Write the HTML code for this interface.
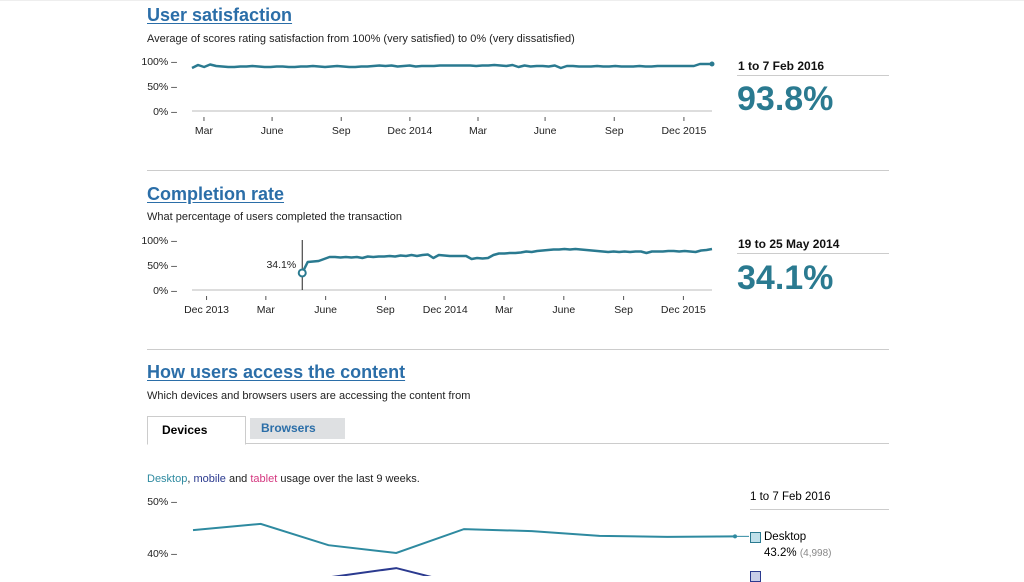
<!DOCTYPE html>
<html><head><meta charset="utf-8">
<style>
body{margin:0;width:1024px;height:576px;overflow:hidden;background:#fff;font-family:"Liberation Sans",sans-serif;position:relative}
.a{position:absolute;white-space:nowrap}
h2{margin:0;font-size:18px;font-weight:bold;color:#2b6ea8;text-decoration:underline;text-underline-offset:2px}
.sub{font-size:11px;color:#222}
.big{font-size:34px;font-weight:bold;color:#2a7a90}
.date{font-size:12px;font-weight:bold;color:#111}
.hr{position:absolute;height:1px;background:#ccc}
svg text{font-family:"Liberation Sans",sans-serif;font-size:10.5px;fill:#222}
</style></head><body>
<div class="hr" style="left:0;top:0;width:1024px;background:#eee"></div>
<h2 class="a" style="left:147px;top:5px">User satisfaction</h2>
<div class="a sub" style="left:147px;top:33px">Average of scores rating satisfaction from 100% (very satisfied) to 0% (very dissatisfied)</div>
<div class="a date" style="left:738px;top:59px">1 to 7 Feb 2016</div>
<div class="hr" style="left:737px;top:75px;width:152px"></div>
<div class="a big" style="left:737px;top:80px">93.8%</div>
<div class="hr" style="left:147px;top:170px;width:742px"></div>

<h2 class="a" style="left:147px;top:184px">Completion rate</h2>
<div class="a sub" style="left:147px;top:211px">What percentage of users completed the transaction</div>
<div class="a date" style="left:738px;top:237px">19 to 25 May 2014</div>
<div class="hr" style="left:737px;top:253px;width:152px"></div>
<div class="a big" style="left:737px;top:259px">34.1%</div>
<div class="hr" style="left:147px;top:349px;width:742px"></div>

<h2 class="a" style="left:147px;top:362px">How users access the content</h2>
<div class="a sub" style="left:147px;top:390px">Which devices and browsers users are accessing the content from</div>
<div class="hr" style="left:147px;top:443px;width:742px"></div>
<div class="a" style="left:147px;top:416px;width:97px;height:27px;border:1px solid #ccc;border-bottom:1px solid #fff;background:#fff;font-size:12px;font-weight:bold;line-height:27px;text-indent:14px">Devices</div>
<div class="a" style="left:250px;top:418px;width:95px;height:21px;background:#dee0e2;font-size:12px;font-weight:bold;color:#2b6ea8;line-height:21px;text-indent:11px">Browsers</div>
<div class="a sub" style="left:147px;top:473px"><span style="color:#2e8aa0">Desktop</span>, <span style="color:#2b3a8f">mobile</span> and <span style="color:#d53880">tablet</span> usage over the last 9 weeks.</div>
<div class="a" style="left:750px;top:491px;font-size:11.5px">1 to 7 Feb 2016</div>
<div class="hr" style="left:750px;top:509px;width:139px"></div>
<div class="a" style="left:750px;top:532px;width:9px;height:9px;border:1px solid #2a7a90;background:#bfe0ea"></div>
<div class="a" style="left:764px;top:531px;font-size:11.5px">Desktop</div>
<div class="a" style="left:764px;top:547px;font-size:11.5px">43.2% <span style="color:#888;font-size:10px">(4,998)</span></div>
<div class="a" style="left:750px;top:571px;width:9px;height:9px;border:1px solid #2b3a8f;background:#c8cde8"></div>

<svg id="s" width="1024" height="576" style="position:absolute;left:0;top:0"></svg>
<script>
const satTicks=["Mar","June","Sep","Dec 2014","Mar","June","Sep","Dec 2015"];
const satTickPos=[0.023,0.154,0.287,0.419,0.55,0.679,0.812,0.946];
const satValues=[86,92,88,93,90,89,88,88,89,89,90,89,88,88,89,89,88,88,89,89,90,89,88,89,90,89,88,88,89,89,90,91,90,91,89,90,91,89,90,90,90,91,91,91,91,91,91,90,91,91,92,91,90,92,88,91,89,90,90,89,91,86,90,90,89,89,89,90,89,89,90,89,89,89,90,89,89,90,90,90,90,90,90,90,94,94,94];
const compTicks=["Dec 2013","Mar","June","Sep","Dec 2014","Mar","June","Sep","Dec 2015"];
const compTickPos=[0.028,0.142,0.257,0.372,0.487,0.6,0.715,0.83,0.945];
const compValues=[34.1,56,57,58,62,66,66,65,66,65,66,64,67,66,67,67,68,67,69,68,70,68,70,71,64,70,69,68,68,68,68,62,64,63,64,70,73,73,74,74,75,77,76,78,79,80,81,81,82,81,82,81,80,79,78,77,76,77,76,77,76,77,77,74,77,77,77,78,78,77,78,77,76,79,80,82];
const weeks=["w1","w2","w3","w4","w5","w6","w7","w8","w9"];
const desktop=[44.4,45.6,41.5,40.0,44.6,44.2,43.3,43.1,43.2];
const mobile=[32.5,33.5,35.3,37.1,33.8,33.5,33.8,34.0,34.2];
const s=document.getElementById('s');
function el(t,a,p){const e=document.createElementNS('http://www.w3.org/2000/svg',t);for(const k in a)e.setAttribute(k,a[k]);(p||s).appendChild(e);return e;}
function txt(x,y,str,anchor){const e=el('text',{x:x,y:y,'text-anchor':anchor||'start'});e.textContent=str;return e;}
function chart(name,x0,x1,yTop,yBot,startFrac,vals,ticks,tpos){
  const y=v=>yBot-(v/100)*(yBot-yTop);
  const X=f=>x0+f*(x1-x0);
  [100,50,0].forEach(v=>{const t=txt(177,y(v)+4,v+'% –','end');});
  const ax=el('line',{x1:x0,x2:x1,y1:yBot,y2:yBot,stroke:'#bbb'});
  
  ticks.forEach((lb,i)=>{const xx=X(tpos[i]);el('line',{x1:xx,x2:xx,y1:yBot+6,y2:yBot+10,stroke:'#555'});const t=txt(xx,yBot+23,lb,'middle');});
  const n=vals.length, xs=i=>X(startFrac+(1-startFrac)*i/(n-1));
  const p=el('polyline',{points:vals.map((v,i)=>xs(i)+','+y(v)).join(' '),fill:'none',stroke:'#2a7a90','stroke-width':2.5,'stroke-linejoin':'round'});
  
  return {xs,y};
}
const c1=chart('satisfaction',192,712,61,111,0,satValues,satTicks,satTickPos);
const d1=el('circle',{cx:c1.xs(satValues.length-1),cy:c1.y(satValues[satValues.length-1]),r:2.5,fill:'#2a7a90'});

const c2=chart('completion',192,712,240,290,0.212,compValues,compTicks,compTickPos);
const hx=c2.xs(0);
const hl=el('line',{x1:hx,x2:hx,y1:240,y2:290,stroke:'#222'});

const hc=el('circle',{cx:hx,cy:c2.y(compValues[0]),r:3.5,fill:'#fff',stroke:'#2a7a90','stroke-width':2});

const ht=txt(hx-6,268,compValues[0].toFixed(1)+'%','end');ht.setAttribute('font-size','12');

const dx=i=>193+i*(735-193)/(weeks.length-1), dy=v=>501+(50-v)*5.2;
[50,40].forEach(v=>{const t=txt(177,dy(v)+4,v+'% –','end');});
const pd=el('polyline',{points:desktop.map((v,i)=>dx(i)+','+dy(v)).join(' '),fill:'none',stroke:'#2e8aa0','stroke-width':2});

const pm=el('polyline',{points:mobile.map((v,i)=>dx(i)+','+dy(v)).join(' '),fill:'none',stroke:'#2b3a8f','stroke-width':2});

const de=el('circle',{cx:dx(8),cy:dy(desktop[8]),r:2,fill:'#2e8aa0'});

el('line',{x1:dx(8),x2:749,y1:dy(desktop[8]),y2:dy(desktop[8]),stroke:'#2e8aa0'});
</script>
</body></html>
